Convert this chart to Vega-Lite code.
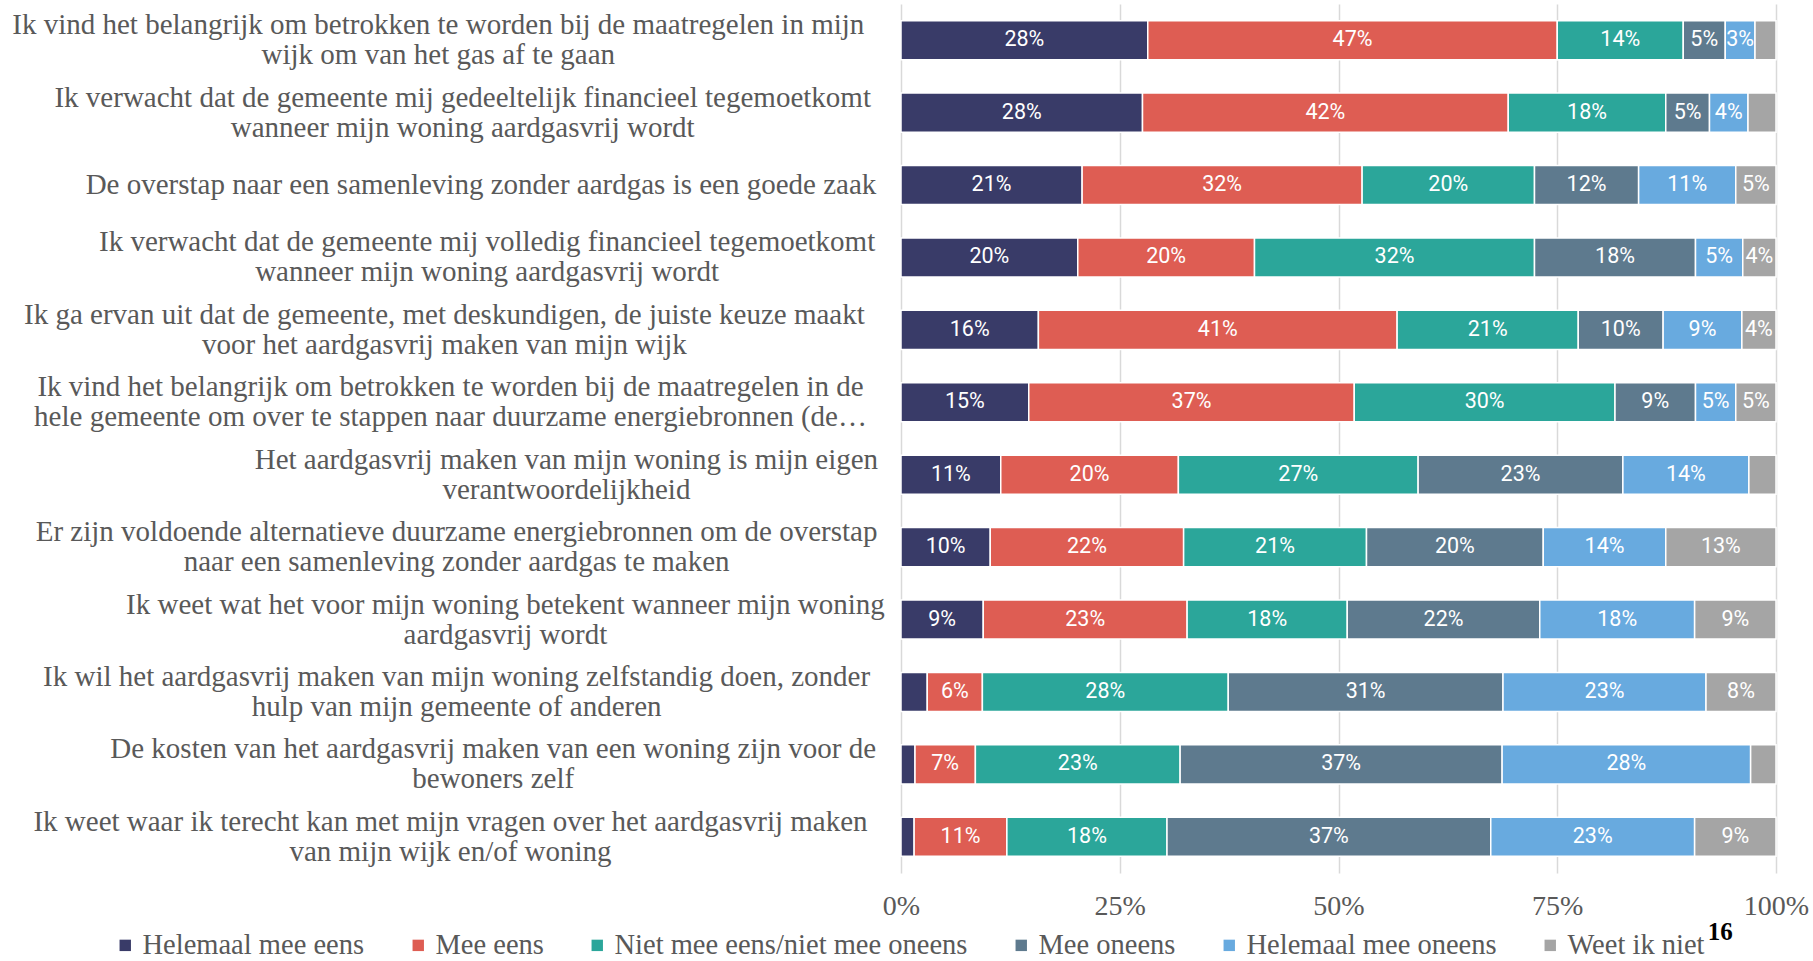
{
  "$schema": "https://vega.github.io/schema/vega-lite/v6.json",
  "width": 875,
  "height": 869,
  "autosize": {"type": "none"},
  "padding": {"left": 901, "top": 4, "right": 37, "bottom": 88},
  "background": "white",
  "config": {"view": {"stroke": null}},
  "title": {"text": "16", "orient": "bottom", "anchor": "end", "font": "Liberation Serif", "fontSize": 25, "fontWeight": "bold", "color": "black", "offset": 0, "dx": -76, "dy": -40},
  "data": {"values": [
    {"q": "Ik vind het belangrijk om betrokken te worden bij de maatregelen in mijn|wijk om van het gas af te gaan", "Helemaal mee eens": 0.282, "Mee eens": 0.468, "Niet mee eens/niet mee oneens": 0.144, "Mee oneens": 0.048, "Helemaal mee oneens": 0.034, "Weet ik niet": 0.024},
    {"q": "Ik verwacht dat de gemeente mij gedeeltelijk financieel tegemoetkomt|wanneer mijn woning aardgasvrij wordt", "Helemaal mee eens": 0.276, "Mee eens": 0.418, "Niet mee eens/niet mee oneens": 0.180, "Mee oneens": 0.050, "Helemaal mee oneens": 0.044, "Weet ik niet": 0.032},
    {"q": "De overstap naar een samenleving zonder aardgas is een goede zaak", "Helemaal mee eens": 0.207, "Mee eens": 0.320, "Niet mee eens/niet mee oneens": 0.197, "Mee oneens": 0.119, "Helemaal mee oneens": 0.111, "Weet ik niet": 0.046},
    {"q": "Ik verwacht dat de gemeente mij volledig financieel tegemoetkomt|wanneer mijn woning aardgasvrij wordt", "Helemaal mee eens": 0.202, "Mee eens": 0.202, "Niet mee eens/niet mee oneens": 0.320, "Mee oneens": 0.184, "Helemaal mee oneens": 0.054, "Weet ik niet": 0.038},
    {"q": "Ik ga ervan uit dat de gemeente, met deskundigen, de juiste keuze maakt|voor het aardgasvrij maken van mijn wijk", "Helemaal mee eens": 0.157, "Mee eens": 0.410, "Niet mee eens/niet mee oneens": 0.207, "Mee oneens": 0.097, "Helemaal mee oneens": 0.090, "Weet ik niet": 0.039},
    {"q": "Ik vind het belangrijk om betrokken te worden bij de maatregelen in de|hele gemeente om over te stappen naar duurzame energiebronnen (de…", "Helemaal mee eens": 0.146, "Mee eens": 0.372, "Niet mee eens/niet mee oneens": 0.298, "Mee oneens": 0.092, "Helemaal mee oneens": 0.046, "Weet ik niet": 0.046},
    {"q": "Het aardgasvrij maken van mijn woning is mijn eigen|verantwoordelijkheid", "Helemaal mee eens": 0.114, "Mee eens": 0.203, "Niet mee eens/niet mee oneens": 0.274, "Mee oneens": 0.234, "Helemaal mee oneens": 0.144, "Weet ik niet": 0.031},
    {"q": "Er zijn voldoende alternatieve duurzame energiebronnen om de overstap|naar een samenleving zonder aardgas te maken", "Helemaal mee eens": 0.102, "Mee eens": 0.221, "Niet mee eens/niet mee oneens": 0.209, "Mee oneens": 0.202, "Helemaal mee oneens": 0.140, "Weet ik niet": 0.126},
    {"q": "Ik weet wat het voor mijn woning betekent wanneer mijn woning|aardgasvrij wordt", "Helemaal mee eens": 0.094, "Mee eens": 0.233, "Niet mee eens/niet mee oneens": 0.183, "Mee oneens": 0.220, "Helemaal mee oneens": 0.177, "Weet ik niet": 0.093},
    {"q": "Ik wil het aardgasvrij maken van mijn woning zelfstandig doen, zonder|hulp van mijn gemeente of anderen", "Helemaal mee eens": 0.030, "Mee eens": 0.063, "Niet mee eens/niet mee oneens": 0.281, "Mee oneens": 0.314, "Helemaal mee oneens": 0.232, "Weet ik niet": 0.080},
    {"q": "De kosten van het aardgasvrij maken van een woning zijn voor de|bewoners zelf", "Helemaal mee eens": 0.016, "Mee eens": 0.069, "Niet mee eens/niet mee oneens": 0.234, "Mee oneens": 0.368, "Helemaal mee oneens": 0.284, "Weet ik niet": 0.029},
    {"q": "Ik weet waar ik terecht kan met mijn vragen over het aardgasvrij maken|van mijn wijk en/of woning", "Helemaal mee eens": 0.015, "Mee eens": 0.106, "Niet mee eens/niet mee oneens": 0.183, "Mee oneens": 0.370, "Helemaal mee oneens": 0.233, "Weet ik niet": 0.093}
  ]},
  "transform": [
    {"fold": ["Helemaal mee eens", "Mee eens", "Niet mee eens/niet mee oneens", "Mee oneens", "Helemaal mee oneens", "Weet ik niet"], "as": ["antwoord", "aandeel"]},
    {"calculate": "indexof(['Helemaal mee eens', 'Mee eens', 'Niet mee eens/niet mee oneens', 'Mee oneens', 'Helemaal mee oneens', 'Weet ik niet'], datum.antwoord)", "as": "volgorde"},
    {"stack": "aandeel", "groupby": ["q"], "sort": [{"field": "volgorde", "order": "ascending"}], "as": ["x0", "x1"]},
    {"calculate": "(datum.x0 + datum.x1) / 2", "as": "xm"}
  ],
  "encoding": {
    "y": {
      "field": "q", "type": "nominal", "sort": null,
      "scale": {"paddingInner": 0.46, "paddingOuter": 0.23},
      "axis": {
        "title": null, "domain": false, "ticks": false, "tickSize": 0, "grid": false,
        "labelExpr": "split(datum.label, '|')",
        "labelFont": "Liberation Serif", "labelFontSize": 29, "labelColor": "#595959",
        "labelLineHeight": 30, "labelLimit": 0,
        "labelAlign": "center", "labelBaseline": "middle",
        "labelOffset": {"expr": "length(split(datum.value, '|')) > 1 ? -15 : 0"},
        "labelPadding": {"expr": "24 + 6.1 * length(split(datum.value, '|')[0])"}
      }
    }
  },
  "layer": [
    {
      "mark": {"type": "bar", "stroke": "white", "strokeWidth": 1.5},
      "encoding": {
        "x": {
          "field": "x0", "type": "quantitative", "scale": {"domain": [0, 1]},
          "axis": {
            "title": null, "values": [0, 0.25, 0.5, 0.75, 1], "format": ".0%",
            "domain": false, "ticks": false, "tickSize": 0, "grid": true,
            "gridColor": "#D9D9D9", "gridWidth": 1.5, "labelFlush": false,
            "labelFont": "Liberation Serif", "labelFontSize": 28, "labelColor": "#595959",
            "labelPadding": 19
          }
        },
        "x2": {"field": "x1"},
        "color": {
          "field": "antwoord", "type": "nominal",
          "scale": {
            "domain": ["Helemaal mee eens", "Mee eens", "Niet mee eens/niet mee oneens", "Mee oneens", "Helemaal mee oneens", "Weet ik niet"],
            "range": ["#393B68", "#DE5D53", "#2BA69A", "#5E7A8E", "#68AADF", "#A5A5A5"]
          },
          "legend": {
            "orient": "none", "legendX": -790, "legendY": 927, "direction": "horizontal",
            "title": null, "symbolType": "square", "symbolSize": 130, "symbolStrokeWidth": 0,
            "labelFont": "Liberation Serif", "labelFontSize": 28.5, "labelColor": "#595959",
            "labelLimit": 1000, "columnPadding": 39, "labelOffset": 3
          }
        }
      }
    },
    {
      "transform": [{"filter": "datum.aandeel >= 0.0335"}],
      "mark": {"type": "text", "color": "white", "font": "Roboto", "fontSize": 21.5},
      "encoding": {
        "x": {"field": "xm", "type": "quantitative"},
        "text": {"field": "aandeel", "type": "quantitative", "format": ".0%"}
      }
    }
  ]
}
